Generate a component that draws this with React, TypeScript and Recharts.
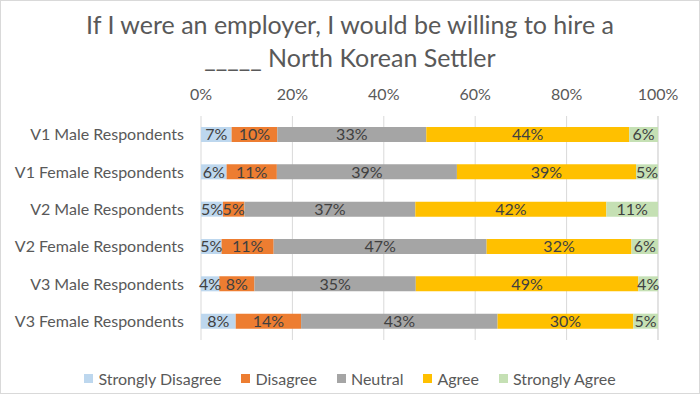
import React from 'react';
import { BarChart, Bar, XAxis, YAxis, CartesianGrid, LabelList, Legend } from 'recharts';

const categories = [
  'V1 Male Respondents',
  'V1 Female Respondents',
  'V2 Male Respondents',
  'V2 Female Respondents',
  'V3 Male Respondents',
  'V3 Female Respondents',
];
const stronglyDisagree = [6.7, 5.6, 4.8, 4.5, 4.0, 7.6];
const disagree = [10.0, 11.0, 4.7, 11.4, 7.7, 14.3];
const neutral = [32.6, 39.4, 37.4, 46.6, 35.3, 43.0];
const agree = [44.4, 39.2, 41.8, 31.7, 48.7, 29.7];
const stronglyAgree = [6.3, 4.8, 11.3, 5.8, 4.3, 5.4];
const xTicks = [0, 20, 40, 60, 80, 100];

const seriesNames = ['Strongly Disagree', 'Disagree', 'Neutral', 'Agree', 'Strongly Agree'];
const seriesKeys = ['sd', 'd', 'n', 'a', 'sa'];
const seriesColors = ['#BDD7EE', '#ED7D31', '#A5A5A5', '#FFC000', '#C5E0B4'];
const seriesValues = [stronglyDisagree, disagree, neutral, agree, stronglyAgree];

const data = categories.map((name, i) => {
  const row: Record<string, any> = { name };
  seriesKeys.forEach((k, j) => {
    row[k] = seriesValues[j][i];
  });
  return row;
});

const FONT = 'Lato, "Open Sans", sans-serif';
const TEXT = '#595959';

const LegendContent = () => (
  <div
    style={{
      display: 'flex',
      justifyContent: 'center',
      alignItems: 'center',
      height: 20,
      fontFamily: FONT,
      fontSize: 16,
      color: TEXT,
    }}
  >
    {seriesNames.map((n, i) => (
      <div key={n} style={{ display: 'flex', alignItems: 'center', marginRight: i < seriesNames.length - 1 ? 20 : 0 }}>
        <span style={{ display: 'inline-block', width: 9, height: 9, background: seriesColors[i], marginRight: 5 }} />
        <span>{n}</span>
      </div>
    ))}
  </div>
);

export default function App() {
  return (
    <div
      style={{
        position: 'absolute',
        left: 0,
        top: 0,
        width: 700,
        height: 394,
        background: '#fff',
        fontFamily: FONT,
      }}
    >
      <div
        style={{
          position: 'absolute',
          left: 0,
          top: 8,
          width: 700,
          textAlign: 'center',
          fontSize: 25,
          lineHeight: '33px',
          color: TEXT,
          fontFamily: FONT,
        }}
      >
        If I were an employer, I would be willing to hire a
        <br />
        _____ North Korean Settler
      </div>
      <BarChart
        width={700}
        height={394}
        data={data}
        layout="vertical"
        margin={{ top: 86, right: 42, bottom: 34, left: 8 }}
        barSize={15}
      >
        <CartesianGrid horizontal={false} stroke="#D9D9D9" />
        <XAxis
          type="number"
          orientation="top"
          domain={[0, 100]}
          ticks={xTicks}
          tickFormatter={(v: number) => `${v}%`}
          axisLine={false}
          tickLine={false}
          tickMargin={10}
          height={30}
          tick={{ fill: TEXT, fontSize: 16, fontFamily: FONT }}
        />
        <YAxis
          type="category"
          dataKey="name"
          width={193}
          axisLine={false}
          tickLine={false}
          tickMargin={11}
          tick={{ fill: TEXT, fontSize: 16, fontFamily: FONT }}
        />
        <Legend
          verticalAlign="bottom"
          width={700}
          wrapperStyle={{ bottom: 6, left: 0, width: 700 }}
          content={LegendContent}
        />
        {seriesKeys.map((k, i) => (
          <Bar key={k} dataKey={k} name={seriesNames[i]} stackId="s" fill={seriesColors[i]} isAnimationActive={false}>
            <LabelList
              dataKey={k}
              position="center"
              formatter={(v: any) => `${Math.round(Number(v))}%`}
              style={{ fill: '#404040', fontSize: 16, fontFamily: FONT }}
            />
          </Bar>
        ))}
      </BarChart>
      <div
        style={{
          position: 'absolute',
          left: 0,
          top: 0,
          width: 700,
          height: 394,
          boxSizing: 'border-box',
          border: '1px solid #D9D9D9',
          pointerEvents: 'none',
        }}
      />
    </div>
  );
}
